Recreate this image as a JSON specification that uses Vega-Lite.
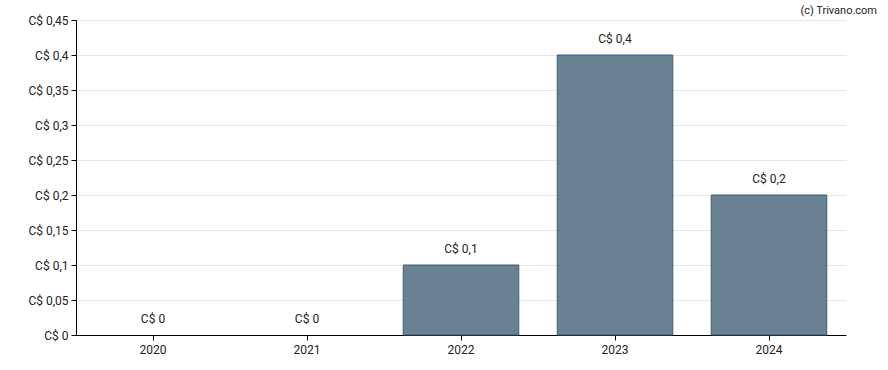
{
  "$schema": "https://vega.github.io/schema/vega-lite/v6.json",
  "width": 770,
  "height": 315,
  "autosize": {"type": "none"},
  "padding": {"left": 76, "top": 20, "right": 42, "bottom": 35},
  "background": "white",
  "config": {
    "view": {"stroke": null},
    "font": "Roboto",
    "axis": {"labelFont": "Roboto", "labelFontSize": 12, "labelColor": "#222222", "domainColor": "#000000", "tickColor": "#000000", "gridColor": "#e6e6e6", "titleFont": "Roboto"}
  },
  "title": {"text": "(c) Trivano.com", "anchor": "end", "frame": "group", "fontSize": 11, "fontWeight": "normal", "color": "#222222", "font": "Roboto", "dx": 31, "dy": 10, "offset": 2, "baseline": "middle"},
  "data": {"values": [
    {"year": "2020", "value": 0, "label": "C$ 0"},
    {"year": "2021", "value": 0, "label": "C$ 0"},
    {"year": "2022", "value": 0.1, "label": "C$ 0,1"},
    {"year": "2023", "value": 0.4, "label": "C$ 0,4"},
    {"year": "2024", "value": 0.2, "label": "C$ 0,2"}
  ]},
  "encoding": {
    "x": {"field": "year", "type": "nominal", "scale": {"paddingInner": 0.25, "paddingOuter": 0.125}, "axis": {"title": null, "labelAngle": 0, "grid": false, "tickSize": 5, "labelPadding": 4}},
    "y": {"field": "value", "type": "quantitative", "scale": {"domain": [0, 0.45], "nice": false}, "axis": {"title": null, "values": [0, 0.05, 0.1, 0.15, 0.2, 0.25, 0.3, 0.35, 0.4, 0.45], "grid": true, "tickSize": 5, "labelPadding": 3, "labelExpr": "'C$ ' + replace(format(datum.value, '.2~f'), '.', ',')"}}
  },
  "layer": [
    {"transform": [{"filter": "datum.value > 0"}], "mark": {"type": "bar", "fill": "#587488", "fillOpacity": 0.9, "stroke": "#3f5a6e", "strokeWidth": 1}},
    {"mark": {"type": "text", "baseline": "alphabetic", "dy": -12, "fontSize": 12, "color": "#222222", "font": "Roboto"}, "encoding": {"text": {"field": "label"}}}
  ]
}
